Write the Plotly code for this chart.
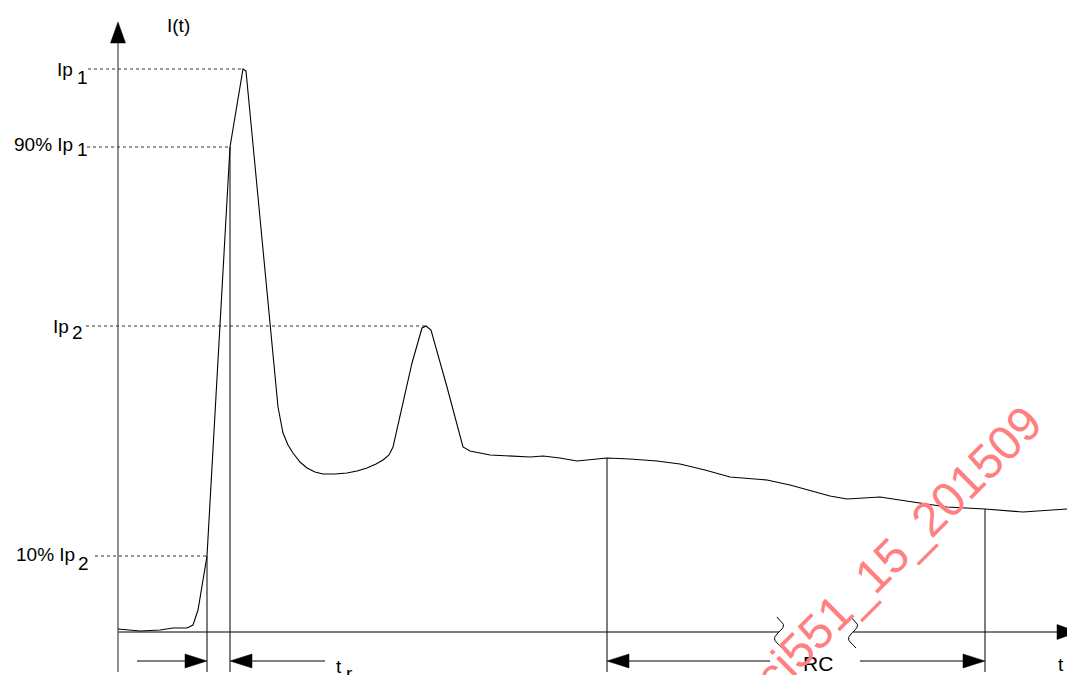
import numpy as np
import plotly.graph_objects as go

# ---- data (time axis in schematic units, current measured above the t axis) ----
t_vals = [118, 140, 160, 173, 187, 193, 198, 203, 207, 230, 243, 246, 278, 283, 288, 293,
          300, 307, 315, 323, 335, 347, 357, 367, 376, 383, 389, 393, 412, 422, 426, 431,
          447, 463, 470, 490, 510, 530, 543, 560, 577, 607, 630, 657, 680, 705, 730, 767,
          790, 807, 830, 847, 880, 913, 947, 985, 1023, 1067]
i_vals = [3, 1, 2, 4, 4, 7, 22, 52, 76, 485, 563, 561, 225, 199, 187, 179,
          170, 164, 160, 158, 158, 159, 161, 164, 168, 172, 177, 185, 269, 304, 306, 302,
          245, 185, 181, 177, 176, 175, 176, 174, 171, 174, 173, 171, 168, 162, 155, 152,
          147, 142, 136, 133, 135, 130, 125, 123, 120, 123]

# reference levels: Ip1, 90% Ip1, Ip2, 10% Ip2
level_vals = [563, 485, 306, 76]
level_start = [88, 87, 86, 95]
level_end = [243, 230, 425, 207]
level_main = ["Ip", "90% Ip", "Ip", "10% Ip"]
level_sub = ["1", "1", "2", "2"]

# vertical markers (time instants) and where they meet the curve
marker_t = [207, 230, 607, 985]
marker_top = [76, 485, 174, 123]

# dimension arrows: (tail, tip)
dim_arrows = [(137, 207), (325, 230), (770, 607), (860, 985)]
break_t = [779, 853]

BOTTOM = -40
DIM_Y = -29
W, H = 1067, 675
BASE = 632  # window row of the t axis

fig = go.Figure()


def line(xs, ys, color="black", width=1, dash=None):
    fig.add_trace(go.Scatter(x=xs, y=ys, mode="lines", hoverinfo="skip", showlegend=False,
                             line=dict(color=color, width=width, dash=dash)))


def head(tx, ty, dx, dy, L=22, hw=7):
    bx, by = tx - dx * L, ty - dy * L
    px, py = -dy, dx
    xs = [tx, bx + px * hw, bx - px * hw, tx]
    ys = [ty, by + py * hw, by - py * hw, ty]
    fig.add_trace(go.Scatter(x=xs, y=ys, mode="lines", fill="toself", fillcolor="black",
                             line=dict(color="black", width=0.5), hoverinfo="skip",
                             showlegend=False))


# axes
line([118, 118], [BOTTOM, 589], color="#444", width=1.2)
head(118, 610, 0, 1, L=21, hw=7.5)
line([118, break_t[0]], [0, 0], color="#555", width=1.4)
line([break_t[1], 1058], [0, 0], color="#555", width=1.4)
head(1078, 0, 1, 0, L=21, hw=7.5)

# axis break squiggles
s = np.linspace(-0.08, 1.12, 40)
for bt in break_t:
    line(list(bt + 4.5 * np.sin(2 * np.pi * s)), list(13 - 26 * s), width=1)

# reference dotted lines
for lv, xs0, xs1 in zip(level_vals, level_start, level_end):
    line([xs0, xs1], [lv, lv], color="#333", width=1, dash="dot")

# vertical markers
for mt, mtop in zip(marker_t, marker_top):
    line([mt, mt], [BOTTOM, mtop], width=1)

# waveform
line(t_vals, i_vals, width=1.1)

# dimension arrows
for tail, tip in dim_arrows:
    d = 1 if tip > tail else -1
    line([tail, tip - d * 20], [DIM_Y, DIM_Y], width=1)
    head(tip, DIM_Y, d, 0, L=22, hw=7)

FONT = "Arial, 'Liberation Sans', sans-serif"


def txt(x, y, s, size=19, xanchor="center", color="black", angle=0):
    fig.add_annotation(x=x, y=y, text=s, showarrow=False, xanchor=xanchor, yanchor="middle",
                       textangle=angle, font=dict(family=FONT, size=size, color=color))


# level labels (positions given as window rows, converted to current units)
main_x = [75, 75, 71, 77]
main_row = [69, 144, 326, 554]
sub_x = [75, 75, 70, 76]
sub_row = [77, 149, 332, 563]
for m, sb, mx, mr, sx, sr in zip(level_main, level_sub, main_x, main_row, sub_x, sub_row):
    txt(mx, BASE - mr, m, xanchor="right")
    txt(sx, BASE - sr, sb, xanchor="left")

txt(178, BASE - 25, "I(t)")
txt(339, BASE - 666, "t")
txt(349, BASE - 673, "r")
txt(818, BASE - 663, "RC", size=21)
txt(1061, BASE - 664, "t")

# watermark
txt(898, BASE - 549, "ci551_15_201509", size=48, color="#ff8080", angle=-45)

fig.update_layout(
    width=W, height=H, margin=dict(l=0, r=0, t=0, b=0),
    paper_bgcolor="white", plot_bgcolor="white",
    xaxis=dict(range=[0, W], visible=False, fixedrange=True),
    yaxis=dict(range=[BASE - H, BASE], visible=False, fixedrange=True),
)

fig.write_html("out.html", config={"displayModeBar": False},
               post_script="document.body.style.margin='0';document.body.style.overflow='hidden';")
